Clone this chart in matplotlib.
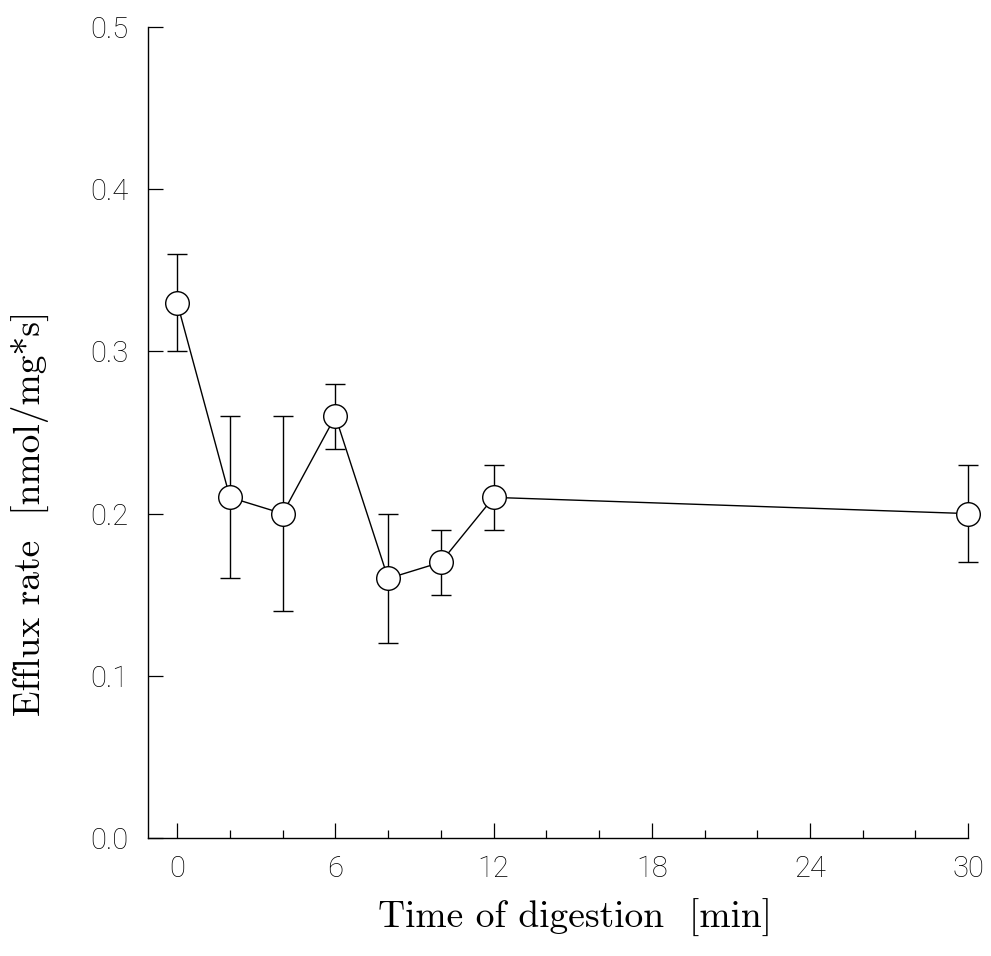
import matplotlib
matplotlib.use("Agg")
import matplotlib.pyplot as plt
from matplotlib.ticker import MultipleLocator

# digestion time (min) vs efflux rate
time_min = [0, 2, 4, 6, 8, 10, 12, 30]
efflux = [0.33, 0.21, 0.20, 0.26, 0.16, 0.17, 0.21, 0.20]
efflux_err = [0.03, 0.05, 0.06, 0.02, 0.04, 0.02, 0.02, 0.03]

x_ticks = [0, 6, 12, 18, 24, 30]
y_ticks = [0.0, 0.1, 0.2, 0.3, 0.4, 0.5]

tick_font = {'family': ['Roboto', 'DejaVu Sans'], 'weight': 'light', 'size': 21, 'color': 'black'}
label_font = {'family': ['cmr10', 'DejaVu Serif'], 'size': 27}

fig = plt.figure(figsize=(9.91, 9.56), dpi=100)
ax = fig.add_axes([0.149, 0.1234, 0.828, 0.8484])

line, caps, bars = ax.errorbar(time_min, efflux, yerr=efflux_err, color='black', linewidth=1.0,
                               elinewidth=1.0, capsize=7, capthick=1.0, marker='o', markersize=17,
                               markerfacecolor='white', markeredgecolor='black', markeredgewidth=1.0)
# last point sits right on the axis end, so don't clip it
for artist in [line, *caps, *bars]:
    artist.set_clip_on(False)

ax.set_xlim(-1.12, 30)
ax.set_ylim(0.0, 0.5)

for side in ['top', 'right']:
    ax.spines[side].set_visible(False)
for side in ['left', 'bottom']:
    ax.spines[side].set_linewidth(1.0)

ax.set_xticks(x_ticks)
ax.set_yticks(y_ticks)
ax.xaxis.set_minor_locator(MultipleLocator(2))
ax.set_xticklabels([str(t) for t in x_ticks], fontdict=tick_font)
ax.set_yticklabels([f"{t:.1f}" for t in y_ticks], fontdict=tick_font)
ax.tick_params(axis='both', which='major', direction='in', length=11, width=0.9)
ax.tick_params(axis='x', which='minor', direction='in', length=6, width=0.9)
ax.tick_params(axis='y', pad=14)
ax.tick_params(axis='x', pad=12)

ax.set_xlabel("Time of digestion  [min]", fontdict=label_font)
ax.set_ylabel("Efflux rate  [nmol/mg*s]", fontdict=label_font)
ax.xaxis.label.set_va('center')
ax.yaxis.label.set_va('center')
ax.xaxis.set_label_coords(0.521, -0.099)
ax.yaxis.set_label_coords(-0.144, 0.40)

fig.savefig("out.png", dpi=100)
